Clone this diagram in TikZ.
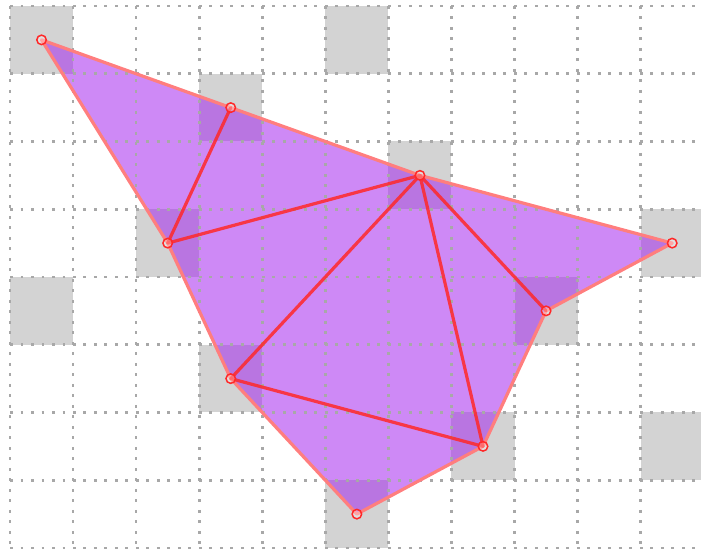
\documentclass[tikz,border=0pt]{standalone}
\usepackage{tikz}
\definecolor{cellgray}{RGB}{211,211,211}
\definecolor{gridgray}{RGB}{168,168,168}
\definecolor{meshfill}{RGB}{165,40,238}
\definecolor{meshred}{RGB}{255,40,40}

\begin{document}
\begin{tikzpicture}[
        x=63.07pt, y={(0pt,-67.75pt)},
        cell/.style={fill=cellgray, draw=none},
        gridline/.style={draw=gridgray, line width=2.6pt, dash pattern=on 2.6pt off 7.9pt},
        hull/.style={draw=meshred!60, line width=3.2pt, line join=round},
        inner/.style={draw=meshred, draw opacity=0.85, line width=3.2pt, line cap=round},
        vtx/.style={circle, draw=meshred, line width=1.5pt, fill=white, fill opacity=0.3, minimum size=9.5pt, inner sep=0pt}
      ]
      \useasboundingbox (-0.1586,-0.0886) rectangle (10.9567,8.0443);
      % shaded cells
      \foreach \c/\r in {0/0,5/0,3/1,6/2,2/3,10/3,0/4,8/4,3/5,7/6,10/6,5/7}
        \fill[cell] (\c,\r) rectangle (\c+1,\r+1);
      % mesh points
      \coordinate (a) at (0.5,0.5);
      \coordinate (b) at (3.5,1.5);
      \coordinate (c) at (6.5,2.5);
      \coordinate (d) at (10.5,3.5);
      \coordinate (e) at (2.5,3.5);
      \coordinate (f) at (8.5,4.5);
      \coordinate (g) at (3.5,5.5);
      \coordinate (h) at (7.5,6.5);
      \coordinate (i) at (5.5,7.5);
      \fill[meshfill, fill opacity=0.55] (a) -- (b) -- (c) -- (d) -- (f) -- (h) -- (i) -- (g) -- (e) -- cycle;
      % dotted grid
      \foreach \c in {0,...,10}
        \draw[gridline] (\c,0) -- (\c,8.0443);
      \foreach \r in {0,...,8}
        \draw[gridline] (0,\r) -- (10.9567,\r);
      % edges
      \draw[hull] (a) -- (b) -- (c) -- (d) -- (f) -- (h) -- (i) -- (g) -- (e) -- cycle;
      \foreach \p/\q in {b/e,e/c,c/g,c/h,c/f,g/h}
        \draw[inner] (\p) -- (\q);
      \foreach \p in {a,b,c,d,e,f,g,h,i}
        \node[vtx] (\p-dot) at (\p) {};
    \end{tikzpicture}
\end{document}
